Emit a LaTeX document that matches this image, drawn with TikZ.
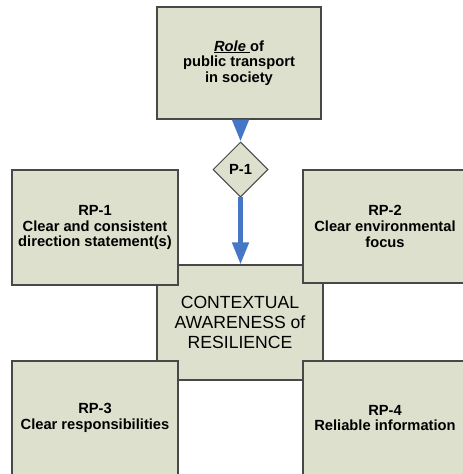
\documentclass[tikz,border=0pt]{standalone}
\usepackage{fontspec}
\setmainfont{Liberation Sans}
\usetikzlibrary{shapes.geometric,arrows.meta,shadows}
\definecolor{boxfill}{RGB}{221,224,204}
\definecolor{boxline}{RGB}{72,72,72}
\definecolor{flowblue}{RGB}{70,118,198}
\tikzset{
  panel/.style={rectangle, draw=boxline, line width=1.1pt, fill=boxfill,
    align=center, inner sep=0pt,
    general shadow={shadow xshift=1.4pt, shadow yshift=-1.4pt, fill=black!45},
    font=\fontsize{14.7}{15.8}\selectfont\bfseries},
  corebox/.style={panel, font=\fontsize{17.6}{19.6}\selectfont},
  gate/.style={diamond, draw=boxline, line width=1pt, fill=boxfill,
    inner sep=0pt, minimum width=55pt, minimum height=55pt,
    font=\fontsize{14.7}{15.8}\selectfont\bfseries},
  flow/.style={draw=flowblue, line width=4.6pt,
    -{Triangle[width=16pt,length=22pt]}}
}
\begin{document}
\begin{tikzpicture}[x=1pt,y=-1pt]
  \useasboundingbox (0,0) rectangle (463,474);
  \fill[white] (0,0) rectangle (463,474);
  \clip (0,0) rectangle (463,474);

  % purpose of the system
  \node[panel, minimum width=164pt, minimum height=112pt] (role) at (239,63)
    {\underline{\textit{Role }}of\\public transport\\in society};

  % central goal, partly covered by the four principle boxes
  \node[corebox, minimum width=166pt, minimum height=115pt] (core) at (240,322.5)
    {CONTEXTUAL\\AWARENESS of\\RESILIENCE};

  % resilience principles
  \node[panel, minimum width=166pt, minimum height=115pt] (rp1) at (95,227.5)
    {RP-1\\Clear and consistent\\direction statement(s)};
  \node[panel, minimum width=164pt, minimum height=113pt] (rp2) at (385,226.5)
    {RP-2\\Clear environmental\\focus};
  \node[panel, minimum width=166pt, minimum height=114pt] (rp3) at (95,418)
    {RP-3\\Clear responsibilities};
  \node[panel, minimum width=164pt, minimum height=114pt] (rp4) at (385,418)
    {RP-4\\Reliable information};

  % principle P-1 on the main path
  \node[gate] (p1) at (240.5,169.5) {P-1};

  \draw[flow] (role.south -| p1.north) -- (p1.north);
  \draw[flow] ([yshift=0.8pt]p1.south) -- (p1.south |- core.north);
\end{tikzpicture}
\end{document}
